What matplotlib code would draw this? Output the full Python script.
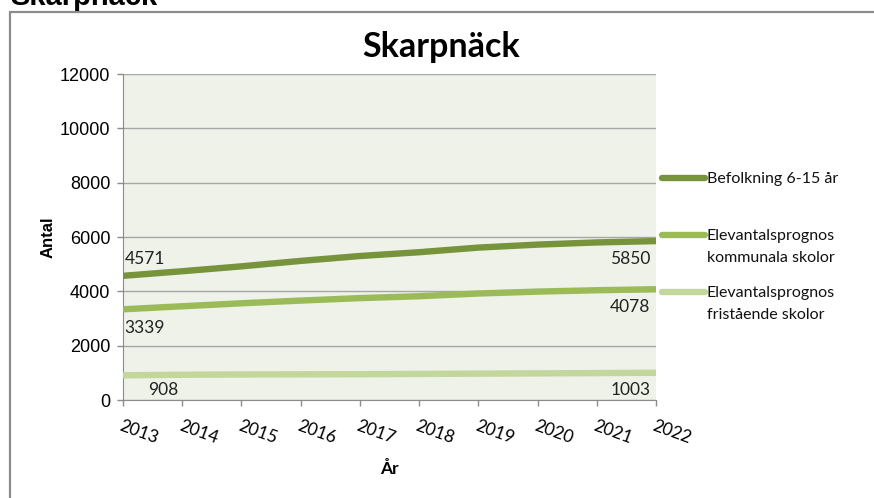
import matplotlib
matplotlib.use("Agg")
import matplotlib.pyplot as plt
from matplotlib.patches import Rectangle
from matplotlib.lines import Line2D
from matplotlib.transforms import ScaledTranslation

# data
ar = [2013, 2014, 2015, 2016, 2017, 2018, 2019, 2020, 2021, 2022]
befolkning = [4571, 4740, 4920, 5120, 5300, 5440, 5610, 5720, 5800, 5850]
kommunala = [3339, 3450, 3560, 3660, 3750, 3820, 3920, 3990, 4040, 4078]
fristaende = [908, 930, 940, 945, 950, 960, 970, 980, 990, 1003]

serie_namn = ["Befolkning 6-15 år",
              "Elevantalsprognos\nkommunala skolor",
              "Elevantalsprognos\nfristående skolor"]
farger = ["#77933C", "#9BBB59", "#C3D69B"]

W, H = 874, 498
fig = plt.figure(figsize=(W / 100, H / 100), dpi=100)
ax = fig.add_axes([123 / W, 1 - 400 / H, (656 - 123) / W, (400 - 74) / H])
ax.set_facecolor("#EEF2E8")

x = list(range(len(ar)))
for serie, farg, namn in zip([befolkning, kommunala, fristaende], farger, serie_namn):
    ax.plot(x, serie, color=farg, lw=4.6, solid_capstyle="butt", label=namn, zorder=3)

# datavärden vid start och slut
etikett = dict(fontsize=12.5, family="Lato", color="#222222", textcoords="offset points", zorder=4)
ax.annotate(str(befolkning[0]), (x[0], befolkning[0]), xytext=(1, 6), ha="left", va="bottom", **etikett)
ax.annotate(str(kommunala[0]), (x[0], kommunala[0]), xytext=(1, -8), ha="left", va="top", **etikett)
ax.annotate(str(fristaende[0]), (x[0], fristaende[0]), xytext=(18, -5), ha="left", va="top", **etikett)
ax.annotate(str(befolkning[-1]), (x[-1], befolkning[-1]), xytext=(-4, -7), ha="right", va="top", **etikett)
ax.annotate(str(kommunala[-1]), (x[-1], kommunala[-1]), xytext=(-4, -7), ha="right", va="top", **etikett)
ax.annotate(str(fristaende[-1]), (x[-1], fristaende[-1]), xytext=(-4, -7), ha="right", va="top", **etikett)

ax.set_xlim(x[0], x[-1])
ax.set_ylim(0, 12000)
ax.set_yticks(range(0, 12001, 2000))
ax.set_xticks(x)
ax.set_xticklabels([str(a) for a in ar], rotation=-20, ha="left", va="top",
                   rotation_mode="anchor", fontsize=12.5, family="Lato")
skift = ScaledTranslation(4 / 72, 0, fig.dpi_scale_trans)
for t in ax.get_xticklabels():
    t.set_transform(t.get_transform() + skift)
for t in ax.get_yticklabels():
    t.set_family("Liberation Sans")
    t.set_fontsize(13)
ax.grid(axis="y", color="#A6A6A6", lw=1.0)
ax.set_axisbelow(True)
for s in ["top", "right"]:
    ax.spines[s].set_visible(False)
for s in ["left", "bottom"]:
    ax.spines[s].set_color("#8C8C8C")
ax.tick_params(axis="both", color="#8C8C8C", length=4, width=1)
ax.tick_params(axis="x", pad=9)
ax.tick_params(axis="y", pad=5)

ax.set_ylabel("Antal", family="Liberation Sans", fontweight="bold", fontsize=12, labelpad=3)
ax.set_xlabel("År", family="Lato", fontweight="bold", fontsize=12.5, labelpad=10)

# förklaring till höger, linjen i höjd med första textraden
leg_y = [178, 235, 292]
for farg, namn, yp in zip(farger, serie_namn, leg_y):
    fig.add_artist(Line2D([662 / W, 705 / W], [1 - yp / H, 1 - yp / H], color=farg,
                          lw=4.6, solid_capstyle="round", transform=fig.transFigure))
    fig.text(707 / W, 1 - (yp - 6) / H, namn, ha="left", va="top", linespacing=1.75,
             family="Lato", fontsize=11.5, color="#111111")

fig.text(441 / W, 1 - 47 / H, "Skarpnäck", ha="center", va="center",
         family="Lato", fontweight="bold", fontsize=24.5)
fig.text(10 / W, 1 - 5 / H, "Skarpnäck", ha="left", va="baseline",
         family="Liberation Sans", fontweight="bold", fontsize=21)

fig.add_artist(Rectangle((9.5 / W, -0.1), 1.0, 1 - 12.5 / H + 0.1, transform=fig.transFigure,
                         fill=False, edgecolor="#8C8C8C", lw=1.6))

fig.savefig("out.png", dpi=100)
